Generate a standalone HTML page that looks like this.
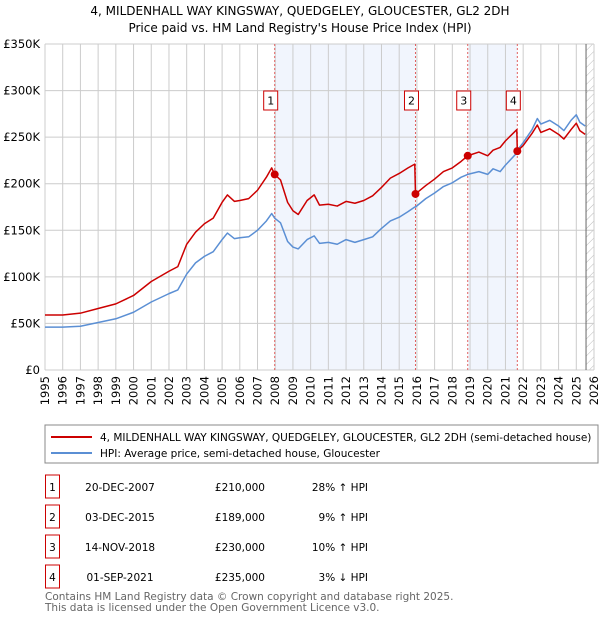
<!DOCTYPE html>
<html><head><meta charset="utf-8"><style>
body{margin:0;background:#fff;font-family:"DejaVu Sans","Liberation Sans",sans-serif;}
svg text{font-family:"DejaVu Sans","Liberation Sans",sans-serif;}
</style></head><body>
<svg id="c" width="600" height="620" xmlns="http://www.w3.org/2000/svg">
<defs><pattern id="hatch" width="6" height="6" patternUnits="userSpaceOnUse" patternTransform="rotate(45)"><line x1="0" y1="0" x2="0" y2="6" stroke="#bbb" stroke-width="1"/></pattern></defs>
<text x="300" y="15" text-anchor="middle" font-size="12" fill="#000">4, MILDENHALL WAY KINGSWAY, QUEDGELEY, GLOUCESTER, GL2 2DH</text>
<text x="300" y="32" text-anchor="middle" font-size="12" fill="#000">Price paid vs. HM Land Registry's House Price Index (HPI)</text>
<g id="plot"></g>
<g>
<rect x="45" y="425" width="553" height="38" fill="#fff" stroke="#888"/>
<line x1="51" y1="437" x2="92" y2="437" stroke="#cc0000" stroke-width="2"/>
<text x="100" y="441" font-size="10.5">4, MILDENHALL WAY KINGSWAY, QUEDGELEY, GLOUCESTER, GL2 2DH (semi-detached house)</text>
<line x1="51" y1="453" x2="92" y2="453" stroke="#5b8fd4" stroke-width="2"/>
<text x="100" y="457" font-size="10.5">HPI: Average price, semi-detached house, Gloucester</text>
</g>
<g id="table" font-size="10.5"></g>
<text x="45" y="600" font-size="10.5" fill="#666">Contains HM Land Registry data © Crown copyright and database right 2025.</text>
<text x="45" y="611" font-size="10.5" fill="#666">This data is licensed under the Open Government Licence v3.0.</text>
</svg>
<script>
const years=[1995,1996,1997,1998,1999,2000,2001,2002,2002.5,2003,2003.5,2004,2004.5,2005,2005.3,2005.7,2006,2006.5,2007,2007.5,2007.8,2007.97,2008.3,2008.7,2009,2009.3,2009.8,2010.2,2010.5,2011,2011.5,2012,2012.5,2013,2013.5,2014,2014.5,2015,2015.5,2015.88,2015.92,2016.5,2017,2017.5,2018,2018.5,2018.87,2019.5,2020,2020.3,2020.7,2021,2021.64,2021.67,2022,2022.5,2022.8,2023,2023.5,2024,2024.3,2024.7,2025,2025.2,2025.5];
const hpiValues=[46,46,47,51,55,62,73,82,86,103,115,122,127,140,147,141,142,143,150,160,168,163,158,138,132,130,140,144,136,137,135,140,137,140,143,152,160,164,170,175,175,184,190,197,201,207,210,213,210,216,213,220,233,236,244,258,270,264,268,262,257,268,274,266,262];
const priceValues=[59,59,61,66,71,80,95,106,111,135,148,157,163,180,188,181,182,184,193,207,217,210,204,180,171,167,182,188,177,178,176,181,179,182,187,196,206,211,217,221,189,198,205,213,217,224,230,234,230,236,239,246,258,235,241,254,263,255,259,253,248,258,265,257,253];
const saleLabels=["1","2","3","4"];
const saleDates=[2007.97,2015.92,2018.87,2021.67];
const salePrices=[210,189,230,235];
const saleDateText=["20-DEC-2007","03-DEC-2015","14-NOV-2018","01-SEP-2021"];
const salePriceText=["£210,000","£189,000","£230,000","£235,000"];
const saleHpiText=["28% ↑ HPI","9% ↑ HPI","10% ↑ HPI","3% ↓ HPI"];
const yTicks=[0,50,100,150,200,250,300,350];
const yTickLabels=["£0","£50K","£100K","£150K","£200K","£250K","£300K","£350K"];
const xTicks=[];for(let y=1995;y<=2026;y++)xTicks.push(y);

const NS="http://www.w3.org/2000/svg";
const X0=45,X1=594,Y0=370,Y1=44;
const xs=v=>X0+(v-1995)/(2026-1995)*(X1-X0);
const ys=v=>Y0-v/350*(Y0-Y1);
const plot=document.getElementById('plot');
function mk(tag,attrs,parent){const e=document.createElementNS(NS,tag);for(const k in attrs)e.setAttribute(k,attrs[k]);(parent||plot).appendChild(e);return e;}

const bands=[[saleDates[0],saleDates[1]],[saleDates[2],saleDates[3]]];
bands.forEach((b,i)=>{const r=mk('rect',{x:xs(b[0]),y:Y1,width:xs(b[1])-xs(b[0]),height:Y0-Y1,fill:'#f1f5fd'});

});
const hz=mk('rect',{x:xs(2025.55),y:Y1,width:X1-xs(2025.55),height:Y0-Y1,fill:'url(#hatch)'});


xTicks.forEach(t=>{const l=mk('line',{x1:xs(t),x2:xs(t),y1:Y1,y2:Y0,stroke:'#ccc','stroke-width':1});


const tx=mk('text',{x:0,y:0,'font-size':11.5,'text-anchor':'end',transform:`translate(${xs(t)+4},${Y0+6}) rotate(-90)`});
tx.textContent=t;

});
yTicks.forEach((t,i)=>{const l=mk('line',{x1:X0,x2:X1,y1:ys(t),y2:ys(t),stroke:'#ccc','stroke-width':1});


const tx=mk('text',{x:X0-5,y:ys(t)+4,'font-size':11.5,'text-anchor':'end'});
tx.textContent=yTickLabels[i];

});
const nl=mk('line',{x1:xs(2025.55),x2:xs(2025.55),y1:Y1,y2:Y0,stroke:'#666','stroke-width':1});


saleDates.forEach((d,i)=>{const l=mk('line',{x1:xs(d),x2:xs(d),y1:Y1,y2:Y0,stroke:'#e06060','stroke-width':1,'stroke-dasharray':'2,2'});

});
const line=(vals,col,name)=>{const p=mk('polyline',{points:years.map((y,i)=>xs(y)+','+ys(vals[i])).join(' '),fill:'none',stroke:col,'stroke-width':1.5,'stroke-linejoin':'round'});

};
line(hpiValues,'#5b8fd4','hpi-line');
line(priceValues,'#cc0000','price-paid-line');
saleDates.forEach((d,i)=>{const c=mk('circle',{cx:xs(d),cy:ys(salePrices[i]),r:4,fill:'#cc0000'});


const g=mk('g',{});


mk('rect',{x:xs(d)-11,y:91,width:14,height:19,fill:'#fff',stroke:'#cc0000','stroke-width':1},g);
const t=mk('text',{x:xs(d)-4,y:104.5,'font-size':11,'text-anchor':'middle'},g);t.textContent=saleLabels[i];});
const tb=document.getElementById('table');
saleLabels.forEach((s,i)=>{const y=487+i*30;
const g=mk('g',{},tb);


mk('rect',{x:45.5,y:y-12,width:14,height:23,fill:'#fff',stroke:'#cc0000','stroke-width':1},g);
let t=mk('text',{x:52.5,y:y+4,'text-anchor':'middle'},g);t.textContent=s;
t=mk('text',{x:120,y:y+4,'text-anchor':'middle'},g);t.textContent=saleDateText[i];
t=mk('text',{x:265,y:y+4,'text-anchor':'end'},g);t.textContent=salePriceText[i];
t=mk('text',{x:368,y:y+4,'text-anchor':'end'},g);t.textContent=saleHpiText[i];});
</script>
</body></html>
